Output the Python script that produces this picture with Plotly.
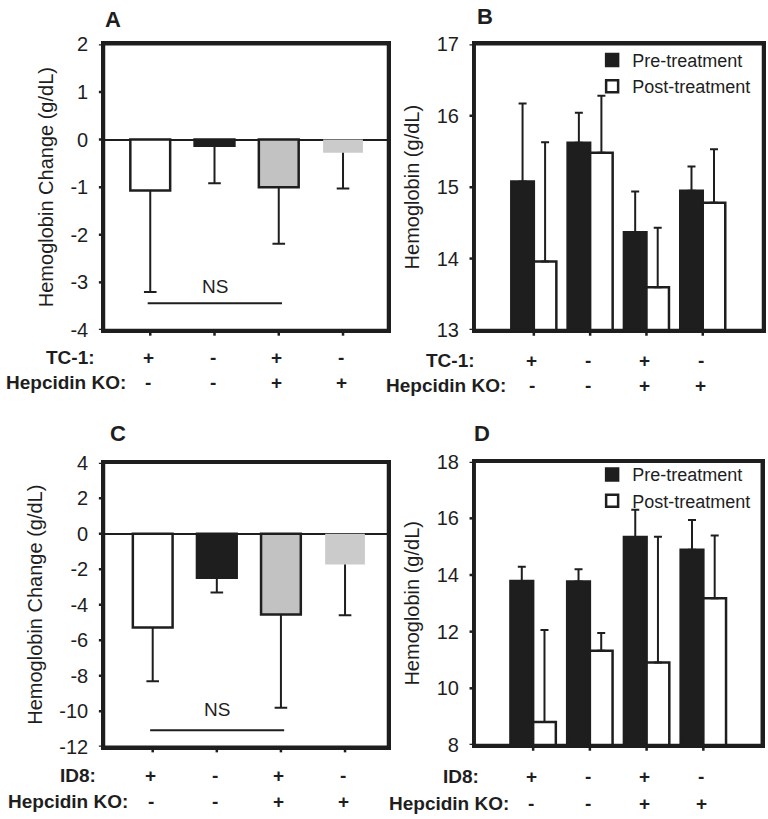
import plotly.graph_objects as go

groups = [0, 1, 2, 3]
tc1_row = ["+", "-", "+", "-"]
id8_row = ["+", "-", "+", "-"]
ko_row = ["-", "-", "+", "+"]

# hemoglobin change (g/dL), mean and SD
change_tc1 = [-1.07, -0.13, -1.00, -0.28]
change_tc1_sd = [2.13, 0.79, 1.19, 0.75]
change_id8 = [-5.29, -2.48, -4.55, -1.73]
change_id8_sd = [3.03, 0.83, 5.25, 2.87]

# hemoglobin before / after treatment (g/dL)
pre_tc1 = [15.08, 15.62, 14.37, 14.95]
pre_tc1_sd = [1.09, 0.42, 0.57, 0.34]
post_tc1 = [13.96, 15.48, 13.60, 14.78]
post_tc1_sd = [1.67, 0.80, 0.83, 0.75]

pre_id8 = [13.79, 13.77, 15.34, 14.89]
pre_id8_sd = [0.50, 0.43, 0.96, 1.05]
post_id8 = [8.81, 11.33, 10.91, 13.18]
post_id8_sd = [3.25, 0.62, 4.44, 2.21]

yticks_a = [-4, -3, -2, -1, 0, 1, 2]
yticks_b = [13, 14, 15, 16, 17]
yticks_c = [-12, -10, -8, -6, -4, -2, 0, 2, 4]
yticks_d = [8, 10, 12, 14, 16, 18]

ns_span = [0, 2]
ns_y_tc1 = -3.44
ns_y_id8 = -11.07

FONT = "Liberation Sans, Arial, sans-serif"
INK = "#1e1e1e"
bar_fill = ["white", INK, "#c2c2c2", "#cbcbcb"]
bar_edge = [2.5, 2.5, 2.5, 0]

fig = go.Figure()


def add_change(vals, sds, xa, ya):
    fig.add_trace(go.Bar(x=groups, y=vals, width=0.62, xaxis=xa, yaxis=ya,
                         marker=dict(color=bar_fill, line=dict(color=INK, width=bar_edge)),
                         showlegend=False))
    ex, ey = [], []
    for g, v, s in zip(groups, vals, sds):
        ex += [g, g, None]
        ey += [v, v - s, None]
    fig.add_trace(go.Scatter(x=ex, y=ey, mode="lines", xaxis=xa, yaxis=ya,
                             line=dict(color=INK, width=2), showlegend=False, hoverinfo="skip"))
    fig.add_trace(go.Scatter(x=groups, y=[v - s for v, s in zip(vals, sds)], mode="markers",
                             xaxis=xa, yaxis=ya, showlegend=False, hoverinfo="skip",
                             marker=dict(symbol="line-ew", size=9, line=dict(color=INK, width=2))))


def add_prepost(pre, pre_sd, post, post_sd, xa, ya, leg):
    fig.add_trace(go.Bar(x=groups, y=pre, name="Pre-treatment", xaxis=xa, yaxis=ya, legend=leg,
                         marker=dict(color=INK, line=dict(color=INK, width=2.5)),
                         error_y=dict(type="data", symmetric=False, array=pre_sd, arrayminus=[0] * 4,
                                      color=INK, thickness=2, width=4)))
    fig.add_trace(go.Bar(x=groups, y=post, name="Post-treatment", xaxis=xa, yaxis=ya, legend=leg,
                         marker=dict(color="white", line=dict(color=INK, width=2.5)),
                         error_y=dict(type="data", symmetric=False, array=post_sd, arrayminus=[0] * 4,
                                      color=INK, thickness=2, width=4)))


add_change(change_tc1, change_tc1_sd, "x", "y")
add_prepost(pre_tc1, pre_tc1_sd, post_tc1, post_tc1_sd, "x2", "y2", "legend")
add_change(change_id8, change_id8_sd, "x3", "y3")
add_prepost(pre_id8, pre_id8_sd, post_id8, post_id8_sd, "x4", "y4", "legend2")

xcommon = dict(showline=True, mirror=True, linewidth=2.5, linecolor=INK, showgrid=False, zeroline=False,
               ticks="", tickvals=groups, showticklabels=False, automargin=False)
ycommon = dict(showline=True, mirror=True, linewidth=2.5, linecolor=INK, showgrid=False,
               ticks="", ticklabelstandoff=9,
               tickfont=dict(size=20, color=INK, family=FONT), title_standoff=12,
               title_font=dict(size=20, color=INK, family=FONT), automargin=False)


def yticks(vals):
    return dict(tickvals=vals, ticktext=[str(v) for v in vals])


fig.update_layout(
    template="none",
    width=768, height=819, margin=dict(l=0, r=0, t=0, b=0, pad=0),
    paper_bgcolor="white", plot_bgcolor="white",
    font=dict(family=FONT, color=INK),
    barmode="group", bargap=0.2, bargroupgap=0,
    xaxis=dict(xcommon, anchor="y", domain=[0.1354, 0.5052], range=[-0.72, 3.70]),
    yaxis=dict(ycommon, **yticks(yticks_a), anchor="x", domain=[0.5971, 0.9459], range=[-4, 2],
               zeroline=True, zerolinecolor=INK, zerolinewidth=1.5,
               title_text="Hemoglobin Change (g/dL)"),
    xaxis2=dict(xcommon, anchor="y2", domain=[0.6181, 0.9935], range=[-1.05, 4.07]),
    yaxis2=dict(ycommon, **yticks(yticks_b), anchor="x2", domain=[0.5971, 0.9459], range=[13, 17],
                zeroline=False, title_text="Hemoglobin (g/dL)"),
    xaxis3=dict(xcommon, anchor="y3", domain=[0.1354, 0.5052], range=[-0.76, 3.67]),
    yaxis3=dict(ycommon, **yticks(yticks_c), anchor="x3", domain=[0.0883, 0.4350], range=[-12, 4],
                zeroline=True, zerolinecolor=INK, zerolinewidth=1.5,
                title_text="Hemoglobin Change (g/dL)"),
    xaxis4=dict(xcommon, anchor="y4", domain=[0.6181, 0.9919], range=[-1.03, 4.03]),
    yaxis4=dict(ycommon, **yticks(yticks_d), anchor="x4", domain=[0.0904, 0.4363], range=[8, 18],
                zeroline=False, title_text="Hemoglobin (g/dL)"),
    legend=dict(x=0.771, y=0.949, xanchor="left", yanchor="top", bgcolor="rgba(0,0,0,0)",
                font=dict(size=18, color=INK), itemwidth=30, tracegroupgap=0),
    legend2=dict(x=0.771, y=0.443, xanchor="left", yanchor="top", bgcolor="rgba(0,0,0,0)",
                 font=dict(size=18, color=INK), itemwidth=30, tracegroupgap=0),
)

# frame and outward tick marks for every panel
panels = [("x", "y", yticks_a), ("x2", "y2", yticks_b), ("x3", "y3", yticks_c), ("x4", "y4", yticks_d)]
for xa, ya, yt in panels:
    fig.add_shape(type="rect", xref=xa + " domain", yref=ya + " domain", x0=0, x1=1, y0=0, y1=1,
                  line=dict(color=INK, width=2.5), layer="above")
    for g in groups:
        fig.add_shape(type="line", xref=xa, yref=ya + " domain", x0=g, x1=g, y0=0, y1=-0.02,
                      line=dict(color=INK, width=2.5), layer="above")
    for v in yt:
        fig.add_shape(type="line", xref=xa + " domain", yref=ya, x0=0, x1=-0.018, y0=v, y1=v,
                      line=dict(color=INK, width=2.5), layer="above")

# NS brackets
for xa, ya, ns_y, txt_y in [("x", "y", ns_y_tc1, ns_y_tc1 + 0.36), ("x3", "y3", ns_y_id8, ns_y_id8 + 1.15)]:
    fig.add_shape(type="line", xref=xa, yref=ya, x0=ns_span[0] - 0.04, x1=ns_span[1] + 0.05,
                  y0=ns_y, y1=ns_y, line=dict(color=INK, width=2))
    fig.add_annotation(xref=xa, yref=ya, x=(ns_span[0] + ns_span[1]) / 2, y=txt_y, text="NS",
                       showarrow=False, font=dict(size=19, color=INK), xanchor="center", yanchor="middle")

# panel letters
for letter, px, py in [("A", 0.1471, 0.9768), ("B", 0.6315, 0.9799), ("C", 0.153, 0.4713), ("D", 0.627, 0.4713)]:
    fig.add_annotation(xref="paper", yref="paper", x=px, y=py, text="<b>%s</b>" % letter,
                       xanchor="center", yanchor="middle", showarrow=False, font=dict(size=22, color=INK))

# condition rows under each panel
rows = [
    ("x", "TC-1:", tc1_row, 0.1263, 0.5641, 0.1667, 0.5324),
    ("x2", "TC-1:", tc1_row, 0.6211, 0.5604, 0.6615, 0.5299),
    ("x3", "ID8:", id8_row, 0.1276, 0.0537, 0.1693, 0.0208),
    ("x4", "ID8:", id8_row, 0.6263, 0.0513, 0.6654, 0.0195),
]
for xa, name, top_row, nx, ny, kx, ky in rows:
    fig.add_annotation(xref="paper", yref="paper", x=nx, y=ny, text="<b>%s</b>" % name,
                       xanchor="right", yanchor="middle", showarrow=False, font=dict(size=19, color=INK))
    fig.add_annotation(xref="paper", yref="paper", x=kx, y=ky, text="<b>Hepcidin KO:</b>",
                       xanchor="right", yanchor="middle", showarrow=False, font=dict(size=19, color=INK))
    for g, a, b in zip(groups, top_row, ko_row):
        fig.add_annotation(xref=xa, yref="paper", x=g, y=ny, text="<b>%s</b>" % a, xshift=-2,
                           xanchor="center", yanchor="middle", showarrow=False, font=dict(size=19, color=INK))
        fig.add_annotation(xref=xa, yref="paper", x=g, y=ky, text="<b>%s</b>" % b, xshift=-2,
                           xanchor="center", yanchor="middle", showarrow=False, font=dict(size=19, color=INK))

fig.write_html("out.html", config={"displayModeBar": False},
               post_script="document.body.style.margin='0';")
